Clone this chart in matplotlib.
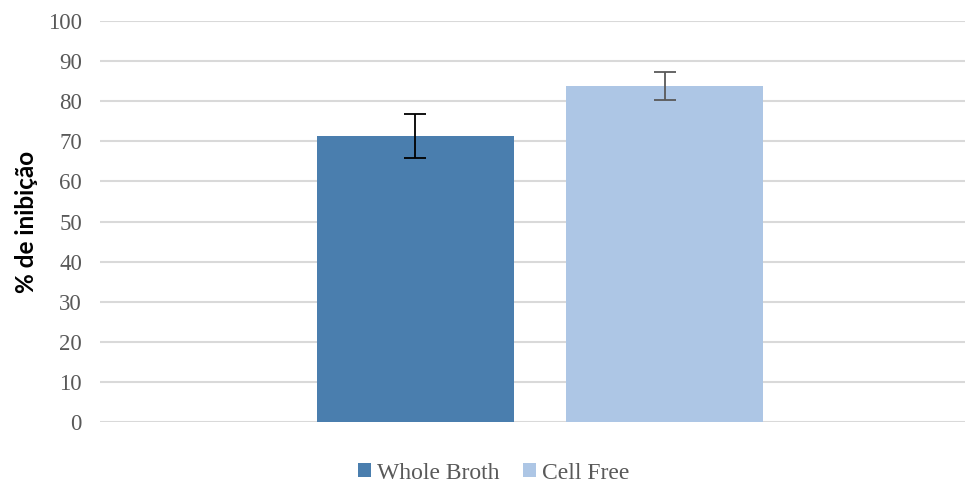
import matplotlib.pyplot as plt
from matplotlib.patches import Patch

# Data
series = ['Whole Broth', 'Cell Free']
values = [71.3, 83.8]
errors = [5.4, 3.6]
bar_colors = ['#4a7eae', '#adc6e5']
err_colors = ['#000000', '#595959']

yticks = list(range(0, 101, 10))

fig = plt.figure(figsize=(9.65, 4.86), dpi=100)
ax = fig.add_axes([100 / 965, 1 - 422 / 486, 865 / 965, 401 / 486])

# single category, two series side by side
width = 1.0
positions = [0.0, 1.264]
for pos, val, err, bc, ec, name in zip(positions, values, errors, bar_colors, err_colors, series):
    ax.bar(pos, val, width=width, color=bc, zorder=2, label=name)
    ax.errorbar(pos, val, yerr=err, fmt='none', ecolor=ec, elinewidth=1.3,
                capsize=8, capthick=1.3, zorder=3)

ax.set_xlim(0.632 - 440 / 197, 0.632 + 425 / 197)
ax.set_ylim(0, 100)
ax.set_yticks(yticks)
ax.set_xticks([])
ax.yaxis.grid(True, color='#d9d9d9', linewidth=1.5, zorder=0)
ax.set_axisbelow(True)
for s in ax.spines.values():
    s.set_visible(False)
ax.tick_params(axis='y', length=0, pad=13, labelsize=16.5, labelcolor='#595959')
for lbl in ax.get_yticklabels():
    lbl.set_fontfamily('Liberation Serif')

ax.set_ylabel('% de inibição', fontsize=17.5, fontweight='bold', family='Lato', labelpad=7)

handles = [Patch(facecolor=c, edgecolor='none') for c in bar_colors]
fig.legend(handles, series, loc='center', bbox_to_anchor=(494 / 965, 1 - 473 / 486),
           ncol=2, frameon=False, handlelength=0.55, handleheight=0.55, handletextpad=0.25,
           columnspacing=1.0, prop={'family': 'Liberation Serif', 'size': 17},
           labelcolor='#595959')

fig.savefig('out.png', dpi=100)
